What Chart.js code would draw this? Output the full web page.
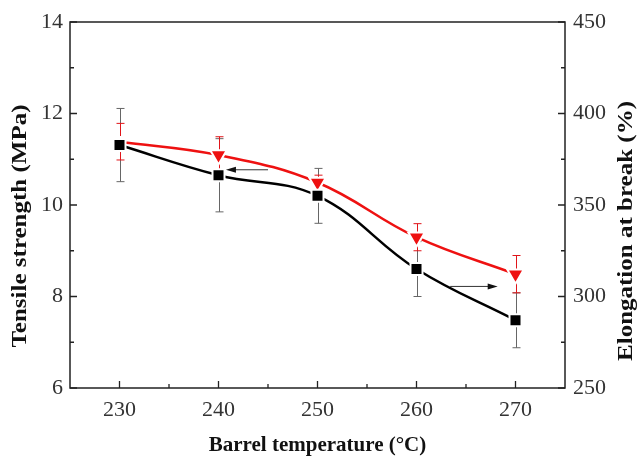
<!DOCTYPE html>
<html>
<head>
<meta charset="utf-8">
<script src="https://cdn.jsdelivr.net/npm/chart.js@4.4.0/dist/chart.umd.min.js"></script>
<style>
  html, body { margin: 0; padding: 0; background: #fff; }
  #wrap { width: 639px; height: 457px; position: relative; }
</style>
</head>
<body>
<div id="wrap"><canvas id="grafico" width="639" height="457"></canvas></div>
<script>
// datos
const temps = [230, 240, 250, 260, 270];
const tensile = [11.31, 10.65, 10.2, 8.6, 7.48];
const tensileErr = [0.8, 0.8, 0.6, 0.6, 0.6];
const elong = [384.6, 377.3, 362.3, 332.4, 312.2];
const elongErr = [10, 10, 4, 7.4, 10.2];

const xTicks = [230, 240, 250, 260, 270];
const xMinor = [235, 245, 255, 265];
const yTicks = [6, 8, 10, 12, 14];
const yMinor = [7, 9, 11, 13];
const y2Ticks = [250, 300, 350, 400, 450];
const y2Minor = [275, 325, 375, 425];

// flechas (coordenadas de datos, eje izquierdo)
const arrowLeft = [[245.0, 10.77], [240.75, 10.77]];
const arrowRight = [[263.4, 8.22], [268.2, 8.22]];

const FONT = "'Liberation Serif', 'Times New Roman', serif";

const decoPlugin = {
    id: "deco",
    beforeDatasetsDraw(chart) {
        const ctx = chart.ctx;
        const x = chart.scales.x, y = chart.scales.y, y2 = chart.scales.y1;
        ctx.save();
        // barras de error
        function bars(vals, errs, scale, color) {
            ctx.strokeStyle = color;
            ctx.lineWidth = 1;
            for (let i = 0; i < temps.length; i++) {
                const px = Math.round(x.getPixelForValue(temps[i])) + 0.5;
                const top = scale.getPixelForValue(vals[i] + errs[i]);
                const bot = scale.getPixelForValue(vals[i] - errs[i]);
                ctx.beginPath();
                ctx.moveTo(px, top); ctx.lineTo(px, bot);
                ctx.moveTo(px - 4, top); ctx.lineTo(px + 4, top);
                ctx.moveTo(px - 4, bot); ctx.lineTo(px + 4, bot);
                ctx.stroke();
            }
        }
        bars(tensile, tensileErr, y, "#666");
        bars(elong, elongErr, y2, "#e0151a");
        ctx.restore();
    },
    afterDatasetsDraw(chart) {
        const ctx = chart.ctx;
        const a = chart.chartArea;
        const x = chart.scales.x, y = chart.scales.y, y2 = chart.scales.y1;
        ctx.save();

        // flechas
        function arrow(pts) {
            const x0 = x.getPixelForValue(pts[0][0]), yy0 = y.getPixelForValue(pts[0][1]);
            const x1 = x.getPixelForValue(pts[1][0]), yy1 = y.getPixelForValue(pts[1][1]);
            const dir = Math.sign(x1 - x0);
            ctx.strokeStyle = "#333";
            ctx.fillStyle = "#111";
            ctx.lineWidth = 1;
            ctx.beginPath();
            ctx.moveTo(x0, yy0); ctx.lineTo(x1 - dir * 6, yy1);
            ctx.stroke();
            ctx.beginPath();
            ctx.moveTo(x1, yy1);
            ctx.lineTo(x1 - dir * 10, yy1 - 3);
            ctx.lineTo(x1 - dir * 10, yy1 + 3);
            ctx.closePath();
            ctx.fill();
        }
        arrow(arrowLeft);
        arrow(arrowRight);

        // marco
        ctx.strokeStyle = "#222";
        ctx.lineWidth = 1.5;
        ctx.strokeRect(a.left, a.top, a.right - a.left, a.bottom - a.top);

        // marcas hacia dentro
        ctx.lineWidth = 1.3;
        ctx.beginPath();
        xTicks.forEach(v => { const p = x.getPixelForValue(v); ctx.moveTo(p, a.bottom); ctx.lineTo(p, a.bottom - 7); });
        xMinor.forEach(v => { const p = x.getPixelForValue(v); ctx.moveTo(p, a.bottom); ctx.lineTo(p, a.bottom - 4); });
        yTicks.forEach(v => { const p = y.getPixelForValue(v); ctx.moveTo(a.left, p); ctx.lineTo(a.left + 7, p); });
        yMinor.forEach(v => { const p = y.getPixelForValue(v); ctx.moveTo(a.left, p); ctx.lineTo(a.left + 4, p); });
        y2Ticks.forEach(v => { const p = y2.getPixelForValue(v); ctx.moveTo(a.right, p); ctx.lineTo(a.right - 7, p); });
        y2Minor.forEach(v => { const p = y2.getPixelForValue(v); ctx.moveTo(a.right, p); ctx.lineTo(a.right - 4, p); });
        ctx.stroke();

        // titulos de ejes
        ctx.fillStyle = "#111";
        ctx.textAlign = "center";
        ctx.textBaseline = "middle";
        ctx.font = "bold 21px " + FONT;
        ctx.fillText("Barrel temperature (°C)", 317.5, 446);
        ctx.font = "bold 25px " + FONT;
        ctx.save();
        ctx.translate(21, 226);
        ctx.rotate(-Math.PI / 2);
        ctx.scale(1, 0.8);
        ctx.fillText("Tensile strength (MPa)", 0, 0);
        ctx.restore();
        ctx.save();
        ctx.translate(627, 231);
        ctx.rotate(-Math.PI / 2);
        ctx.scale(1, 0.8);
        ctx.fillText("Elongation at break (%)", 0, 0);
        ctx.restore();

        ctx.restore();
    }
};

document.addEventListener("DOMContentLoaded", function() {
    const ctx = document.getElementById("grafico").getContext("2d");
    const tickFont = { family: FONT, size: 22 };

    new Chart(ctx, {
        type: "line",
        data: {
            datasets: [
                {
                    label: "Tensile strength",
                    data: temps.map((t, i) => ({ x: t, y: tensile[i] })),
                    yAxisID: "y",
                    borderColor: "#000",
                    backgroundColor: "#000",
                    borderWidth: 2.5,
                    tension: 0.4,
                    pointStyle: "rect",
                    pointRadius: 8.5,
                    pointBorderColor: "#fff",
                    pointBorderWidth: 2
                },
                {
                    label: "Elongation at break",
                    data: temps.map((t, i) => ({ x: t, y: elong[i] })),
                    yAxisID: "y1",
                    borderColor: "#ee1111",
                    backgroundColor: "#ee1111",
                    borderWidth: 2.5,
                    tension: 0.4,
                    pointStyle: "triangle",
                    rotation: 180,
                    pointRadius: 9.5,
                    pointBorderColor: "#fff",
                    pointBorderWidth: 2
                }
            ]
        },
        options: {
            responsive: false,
            animation: false,
            layout: { padding: { top: 22, left: 0, right: 0, bottom: 0 } },
            plugins: {
                legend: { display: false },
                tooltip: { enabled: false }
            },
            scales: {
                x: {
                    type: "linear",
                    min: 225,
                    max: 275,
                    afterBuildTicks: s => { s.ticks = xTicks.map(v => ({ value: v })); },
                    afterFit: s => { s.height = 69; },
                    grid: { display: false, drawTicks: false },
                    border: { display: false },
                    ticks: { font: tickFont, color: "#333", padding: 9, maxRotation: 0 }
                },
                y: {
                    position: "left",
                    min: 6,
                    max: 14,
                    afterBuildTicks: s => { s.ticks = yTicks.map(v => ({ value: v })); },
                    afterFit: s => { s.width = 70; },
                    grid: { display: false, drawTicks: false },
                    border: { display: false },
                    ticks: { font: tickFont, color: "#333", padding: 7 }
                },
                y1: {
                    position: "right",
                    min: 250,
                    max: 450,
                    afterBuildTicks: s => { s.ticks = y2Ticks.map(v => ({ value: v })); },
                    afterFit: s => { s.width = 74; },
                    grid: { display: false, drawTicks: false },
                    border: { display: false },
                    ticks: { font: tickFont, color: "#333", padding: 8 }
                }
            }
        },
        plugins: [decoPlugin]
    });
});
</script>
</body>
</html>
